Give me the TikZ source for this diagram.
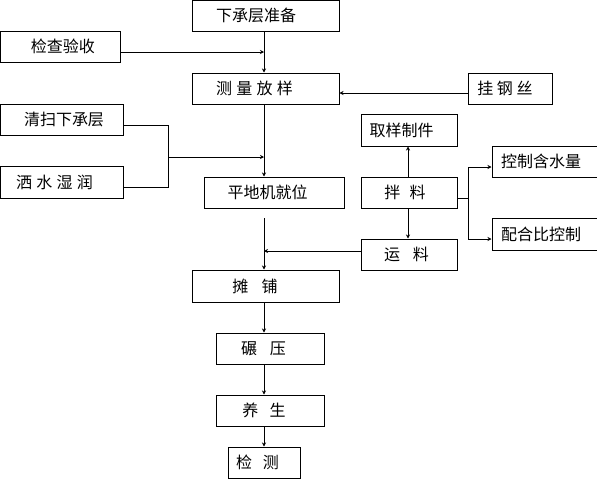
\documentclass[tikz,border=0pt]{standalone}
\usepackage{fontspec}
\newfontfamily\cjk{Noto Sans CJK SC}
\usetikzlibrary{arrows.meta}
\newcommand\mkbox[7]{%
  \node[boxs, minimum width={(#4-#2)*0.75pt}, minimum height={(#5-#3)*0.75pt}] (#1) at ({(#2+#4)/2},{(#3+#5)/2}) {};
  \node[txt] (t#1) at (#6,{(#3+#5)/2}) {#7};}
\begin{document}
\begin{tikzpicture}[x=0.75pt,y=-0.75pt,
  boxs/.style={draw, line width=0.75pt, inner sep=0pt, rectangle},
  txt/.style={inner sep=0pt, font=\cjk\fontsize{12pt}{14pt}\selectfont},
  ln/.style={line width=0.75pt},
  arr/.style={line width=0.75pt, -{Stealth[length=3pt,width=3pt]}}]
\useasboundingbox (0,0) rectangle (597,479);
\clip (0,0) rectangle (597,479);
\mkbox{prep}{192}{0.5}{339}{31}{256}{下承层准备}
\mkbox{check}{0.5}{31}{120}{62}{63}{检查验收}
\mkbox{meas}{192}{73}{339}{104}{254.5}{测\hspace{3.2pt}量\hspace{3.2pt}放\hspace{3.2pt}样}
\mkbox{wire}{468}{73}{552}{104}{505}{挂\hspace{2.8pt}钢\hspace{2.8pt}丝}
\mkbox{clean}{0.5}{104}{123}{135}{64}{清扫下承层}
\mkbox{wet}{0.5}{166}{123}{198}{54.5}{洒\hspace{3.2pt}水\hspace{3.2pt}湿\hspace{3.2pt}润}
\mkbox{grader}{204}{177}{344}{208}{267.5}{平地机就位}
\mkbox{sample}{361}{114}{457}{146}{401.5}{取样制件}
\mkbox{mix}{361}{177}{457}{208}{405}{拌\hspace{7pt}料}
\mkbox{haul}{361}{239}{457}{270}{406.5}{运\hspace{9.4pt}料}
\mkbox{water}{492}{146}{612}{177}{541}{控制含水量}
\mkbox{ratio}{492}{218}{612}{250}{541}{配合比控制}
\mkbox{spread}{192}{270}{339}{302}{255}{摊\hspace{10pt}铺}
\mkbox{roll}{216}{333}{324}{364}{263.5}{碾\hspace{9.4pt}压}
\mkbox{cure}{216}{395}{324}{426}{264}{养\hspace{8.6pt}生}
\mkbox{test}{228}{447}{300}{478}{257.5}{检\hspace{8pt}测}
% spine and junctions
\coordinate (sp) at (264,0);
\coordinate (jl) at (168,157);
\coordinate (jr) at (468,198);
\coordinate (gs) at (264,218);
\coordinate (bx) at (408,0);
% connectors
\draw[arr] (prep.south -| sp) -- (meas.north -| sp);
\draw[arr] (check.east |- 0,52) -- (sp |- 0,52);
\draw[arr] (wire.west |- 0,93) -- (meas.east |- 0,93);
\draw[arr] (meas.south -| sp) -- (grader.north -| sp);
\draw[ln] (clean.east |- 0,125) -| (jl);
\draw[ln] (wet.east |- 0,187) -| (jl);
\draw[arr] (jl) -- (sp |- jl);
\draw[arr] (gs) -- (spread.north -| sp);
\draw[arr] (haul.west |- 0,251) -- (sp |- 0,251);
\draw[arr] (mix.north -| bx) -- (sample.south -| bx);
\draw[arr] (mix.south -| bx) -- (haul.north -| bx);
\draw[ln] (mix.east |- jr) -- (jr);
\draw[arr] (jr) |- (water.west |- 0,167);
\draw[arr] (jr) |- (ratio.west |- 0,239);
\draw[arr] (spread.south -| sp) -- (roll.north -| sp);
\draw[arr] (roll.south -| sp) -- (cure.north -| sp);
\draw[arr] (cure.south -| sp) -- (test.north -| sp);
\end{tikzpicture}
\end{document}
